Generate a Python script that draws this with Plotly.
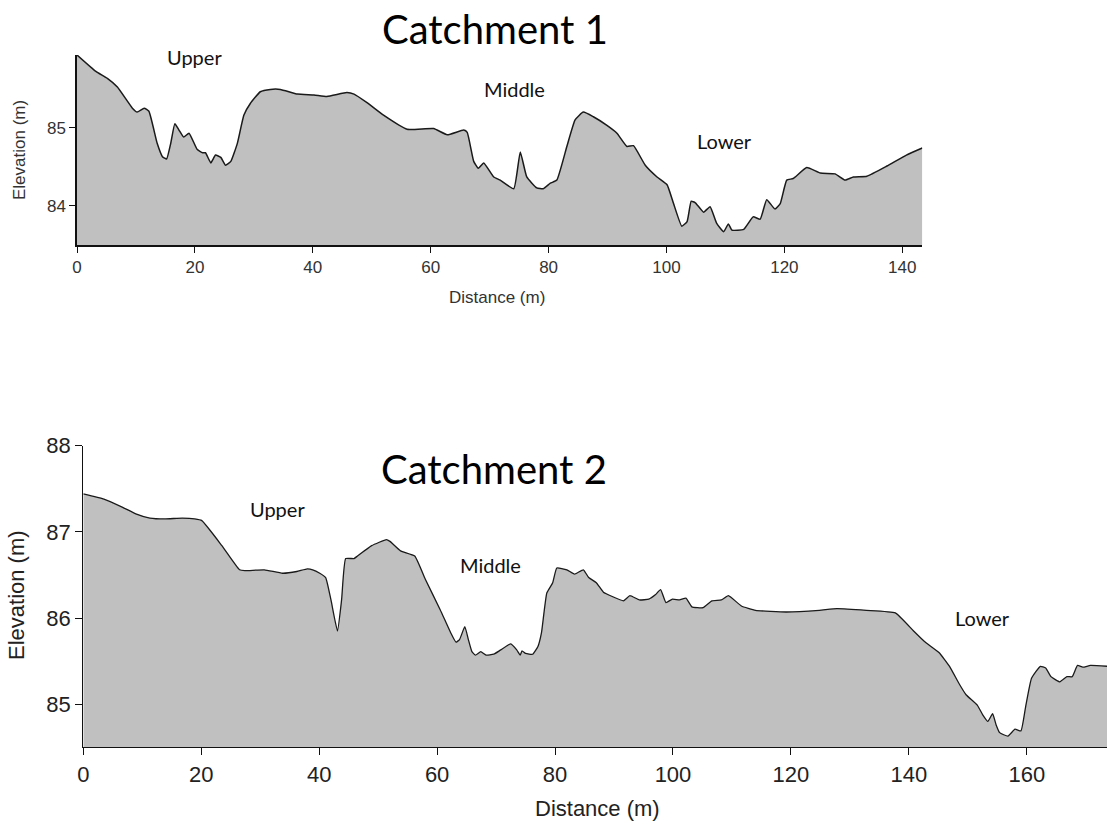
import plotly.graph_objects as go

# ---- Catchment 1 profile ----
c1_dist = [0, 3.2, 5.15, 6.85, 9.4, 10.2, 11.4, 12.2, 13.6, 14.5, 15.2, 15.9, 16.6, 17.3, 18.1, 19.0,
           20.4, 21.3, 21.8, 22.7, 23.5, 24.4, 25.2, 26.1, 27.2, 28.3, 29.4, 31.1, 32.8, 34.5, 37.4,
           40.2, 42.4, 45.8, 47.0, 49.2, 52.0, 56.0, 60.5, 62.8, 65.6, 66.2, 67.3, 68.1, 69.0, 70.7,
           71.8, 74.1, 75.2, 76.3, 78.0, 79.1, 80.3, 81.4, 83.1, 84.5, 85.9, 87.6, 89.9, 91.6, 93.3,
           94.4, 96.4, 98.4, 100.1, 101.2, 102.6, 103.5, 104.2, 104.9, 106.3, 107.4, 108.5, 109.7,
           110.5, 111.1, 113.1, 114.7, 115.9, 117.0, 118.4, 119.3, 120.4, 121.5, 123.8, 126.1, 128.6,
           130.3, 131.7, 134.0, 137.4, 140.7, 143.4]
c1_elev = [85.93, 85.72, 85.63, 85.52, 85.25, 85.20, 85.25, 85.21, 84.80, 84.63, 84.60, 84.80, 85.05,
           84.97, 84.88, 84.93, 84.72, 84.68, 84.68, 84.55, 84.65, 84.62, 84.52, 84.57, 84.80, 85.16,
           85.31, 85.46, 85.49, 85.49, 85.43, 85.42, 85.40, 85.45, 85.43, 85.32, 85.16, 84.98, 84.99,
           84.91, 84.97, 84.94, 84.57, 84.48, 84.55, 84.37, 84.33, 84.22, 84.69, 84.37, 84.23, 84.22,
           84.29, 84.33, 84.76, 85.10, 85.20, 85.14, 85.03, 84.93, 84.76, 84.77, 84.52, 84.37, 84.27,
           84.03, 83.74, 83.80, 84.06, 84.04, 83.92, 83.99, 83.78, 83.67, 83.77, 83.69, 83.70, 83.86,
           83.83, 84.08, 83.96, 84.03, 84.33, 84.35, 84.49, 84.42, 84.41, 84.33, 84.37, 84.38, 84.51,
           84.65, 84.74]

# ---- Catchment 2 profile ----
c2_dist = [0, 3.5, 6.5, 8.9, 11.3, 13.8, 16.8, 18.9, 20.1, 23.5, 26.5, 27.4, 30.7, 33.8, 36.2, 38.0,
           38.9, 40.1, 41.1, 42.0, 43.1, 43.8, 44.5, 45.9, 46.5, 48.9, 51.4, 52.0, 53.8, 56.2, 58.0,
           60.5, 62.3, 63.2, 63.8, 64.7, 65.3, 65.9, 66.5, 67.4, 68.3, 69.6, 70.8, 72.5, 73.5, 74.1,
           74.4, 75.0, 76.2, 77.1, 77.7, 78.6, 79.6, 80.3, 82.0, 83.3, 84.8, 85.7, 87.0, 88.2, 89.7,
           91.6, 92.7, 94.3, 95.9, 97.0, 97.9, 98.8, 99.9, 101.1, 102.2, 103.2, 105.1, 106.6, 108.2,
           109.4, 111.6, 114.0, 119.2, 124.8, 127.8, 132.8, 137.7, 140.8, 142.6, 145.1, 146.9, 148.5,
           149.7, 151.6, 152.5, 153.4, 154.2, 154.8, 155.4, 156.8, 158.0, 159.0, 159.8, 160.8, 162.3,
           163.2, 164.1, 165.6, 166.8, 167.7, 168.6, 169.5, 170.8, 173.8]
c2_elev = [87.44, 87.38, 87.29, 87.21, 87.16, 87.15, 87.16, 87.15, 87.13, 86.84, 86.56, 86.55, 86.56,
           86.52, 86.54, 86.57, 86.56, 86.52, 86.47, 86.21, 85.85, 86.21, 86.69, 86.69, 86.72, 86.84,
           86.91, 86.89, 86.78, 86.72, 86.45, 86.10, 85.83, 85.72, 85.75, 85.90, 85.75, 85.61, 85.57,
           85.61, 85.57, 85.58, 85.63, 85.70, 85.63, 85.57, 85.62, 85.59, 85.58, 85.67, 85.83, 86.29,
           86.41, 86.58, 86.56, 86.51, 86.56, 86.47, 86.41, 86.30, 86.25, 86.20, 86.26, 86.21, 86.22,
           86.27, 86.33, 86.18, 86.22, 86.21, 86.23, 86.13, 86.12, 86.20, 86.21, 86.26, 86.14, 86.09,
           86.07, 86.09, 86.11, 86.09, 86.06, 85.85, 85.73, 85.60, 85.44, 85.24, 85.11, 84.99, 84.88,
           84.80, 84.89, 84.76, 84.67, 84.63, 84.71, 84.69, 84.97, 85.30, 85.44, 85.42, 85.32, 85.26,
           85.32, 85.32, 85.45, 85.43, 85.45, 85.44]

c1_xticks = [0, 20, 40, 60, 80, 100, 120, 140]
c1_yticks = [84, 85]
c2_xticks = [0, 20, 40, 60, 80, 100, 120, 140, 160]
c2_yticks = [85, 86, 87, 88]

c1_zones = ["Upper", "Middle", "Lower"]
c1_zone_x = [19.9, 74.2, 109.8]
c1_zone_y = [85.91, 85.49, 84.83]
c2_zones = ["Upper", "Middle", "Lower"]
c2_zone_x = [32.9, 69.1, 152.5]
c2_zone_y = [87.26, 86.61, 86.0]

W, H = 1107, 828
FILL = "#c0c0c0"
TICKFONT = "Liberation Sans, Arial, sans-serif"
LABELFONT = "Lato, Open Sans, sans-serif"

fig = go.Figure()
fig.add_trace(go.Scatter(x=c1_dist, y=c1_elev, mode="lines", fill="tozeroy",
                         fillcolor=FILL, line=dict(color="#1a1a1a", width=1.5, shape="spline", smoothing=0.4),
                         xaxis="x", yaxis="y", hoverinfo="x+y", showlegend=False))
fig.add_trace(go.Scatter(x=c2_dist, y=c2_elev, mode="lines", fill="tozeroy",
                         fillcolor=FILL, line=dict(color="#1a1a1a", width=1.3, shape="spline", smoothing=0.4),
                         xaxis="x2", yaxis="y2", hoverinfo="x+y", showlegend=False))

def px_x(p):
    return p / W

def px_y(p):
    return 1 - p / H

axis_common = dict(showgrid=False, zeroline=False, showline=True, linecolor="#111",
                   ticks="outside", tickcolor="#111", fixedrange=True, automargin=False)

fig.update_layout(
    width=W, height=H,
    margin=dict(l=0, r=0, t=0, b=0),
    paper_bgcolor="white", plot_bgcolor="white",
    xaxis=dict(domain=[px_x(77), px_x(922.3)], range=[0, 143.4], anchor="y",
               tickvals=c1_xticks, ticklen=6, linewidth=1.5, tickwidth=1.3,
               tickfont=dict(family=TICKFONT, size=17, color="#333"), **axis_common),
    yaxis=dict(domain=[px_y(245), px_y(55)], range=[83.5, 85.93], anchor="x",
               tickvals=c1_yticks, ticklen=6, linewidth=1.5, tickwidth=1.3,
               tickfont=dict(family=TICKFONT, size=17, color="#333"), **axis_common),
    xaxis2=dict(domain=[px_x(83.3), 1.0], range=[0, 173.6], anchor="y2",
                tickvals=c2_xticks, ticklen=7, linewidth=1.2, tickwidth=1.3,
                tickfont=dict(family=TICKFONT, size=22, color="#222"), **axis_common),
    yaxis2=dict(domain=[px_y(747.3), px_y(445.7)], range=[84.5, 88], anchor="x2",
                tickvals=c2_yticks, ticklen=7, linewidth=1.2, tickwidth=1.3,
                tickfont=dict(family=TICKFONT, size=22, color="#222"), **axis_common),
)

def note(text, x, y, size, color, family, xref="paper", yref="paper", angle=0):
    return dict(text=text, xref=xref, yref=yref, x=x, y=y, showarrow=False,
                xanchor="center", yanchor="middle", textangle=angle,
                font=dict(family=family, size=size, color=color))

ann = [
    note("Catchment 1", px_x(495), px_y(29), 40, "#000", LABELFONT),
    note("Catchment 2", px_x(494), px_y(469), 40, "#000", LABELFONT),
]
for t, x, y in zip(c1_zones, c1_zone_x, c1_zone_y):
    ann.append(note(t, x, y, 20, "#111", LABELFONT, "x", "y"))
for t, x, y in zip(c2_zones, c2_zone_x, c2_zone_y):
    ann.append(note(t, x, y, 20, "#111", LABELFONT, "x2", "y2"))
ann += [
    note("Distance (m)", px_x(497), px_y(297), 17, "#333", TICKFONT),
    note("Elevation (m)", px_x(19), px_y(150), 17, "#333", TICKFONT, angle=-90),
    note("Distance (m)", px_x(597), px_y(808), 22, "#222", TICKFONT),
    note("Elevation (m)", px_x(16), px_y(595), 22, "#222", TICKFONT, angle=-90),
]
fig.update_layout(annotations=ann)

fig.write_html("out.html")
